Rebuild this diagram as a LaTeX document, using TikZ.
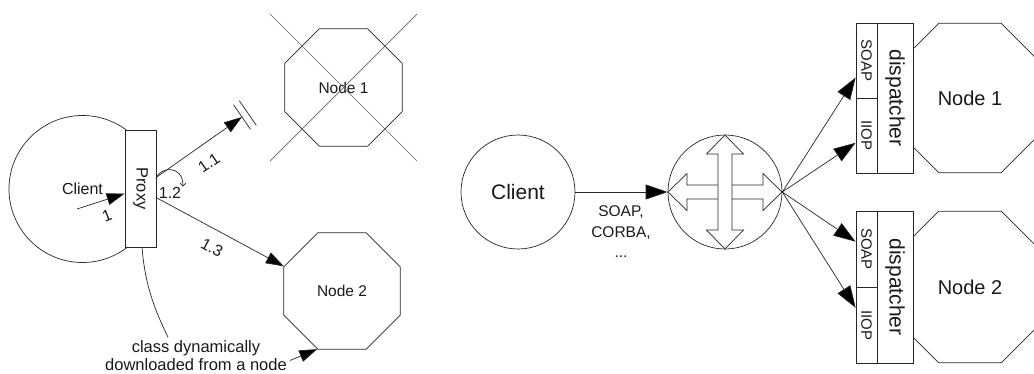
\documentclass[tikz,border=0pt]{standalone}
\usepackage{fontspec}
\setmainfont{Liberation Sans}
\usetikzlibrary{shapes.geometric,arrows.meta,calc}
\begin{document}
\begin{tikzpicture}[x=1pt,y=-1pt,
  ln/.style={draw=black!85, line width=0.7pt},
  oct/.style={ln, regular polygon, regular polygon sides=8, inner sep=0pt},
  arr/.style={ln, -{Triangle[length=18pt,width=12pt,fill=black]}},
  bigarr/.style={ln, -{Triangle[length=22pt,width=15pt,fill=black]}},
  fs/.style={font=\fontsize{#1}{#1}\selectfont, text=black!90},
  cell/.style={ln, fill=white, rotate=-90, inner sep=0pt},
]
\useasboundingbox (0,0) rectangle (1034,373);
\clip (0,0) rectangle (1034,373);

% ---------------- left diagram ----------------
\node[ln, circle, minimum size=147pt, inner sep=0pt, fs=16] (client1) at (82.5,189) {Client};
\node[cell, minimum width=117pt, minimum height=31pt, fs=16.4] (proxy) at (140.5,188.5) {Proxy};
\coordinate (c1s) at (77,209);
\draw[arr] (c1s) -- (proxy);
\node[fs=16, rotate=21.6] (l1) at (107,216) {1};

\node[oct, minimum size=127pt, fs=15.5] (n1l) at (343.5,87.5) {Node 1};
\draw[draw=black!60, line width=0.7pt] ($(n1l.center)+(-73.5,-73.5)$) -- ($(n1l.center)+(73.5,73.5)$);
\draw[draw=black!60, line width=0.7pt] ($(n1l.center)+(73.5,-73.5)$) -- ($(n1l.center)+(-73.5,73.5)$);

\node[oct, minimum size=126pt, fs=15.5] (n2l) at (342,291) {Node 2};

% 1.1 lost message
\coordinate (lost) at (242,117);
\draw[arr] ($(proxy.center)+(15.5,-11)$) -- (lost);
\draw[ln] ($(lost)+(-8.5,-12.3)$) -- ($(lost)+(8.5,12.3)$);
\draw[ln] ($(lost)+(-2.7,-16.3)$) -- ($(lost)+(14.3,8.3)$);
\node[fs=16, rotate=34.6] (l11) at (209,163) {1.1};

% 1.2 self loop
\coordinate (l12a) at ($(proxy.center)+(15.5,-10)$);
\draw[ln, -{Straight Barb[length=3pt,width=6pt]}] (l12a) .. controls ($(l12a)+(4,-12)$) and ($(l12a)+(27,-14)$) .. ($(l12a)+(27,8)$);
\node[fs=16] (l12) at (170,193) {1.2};

% 1.3
\draw[arr] ($(proxy.center)+(15.5,9)$) -- (n2l.157.5);
\node[fs=16, rotate=-28] (l13) at (212,248) {1.3};

% note
\node[font=\fontsize{16.5}{18}\selectfont, text=black!90, align=center, inner sep=1pt] (note) at (196,355.5) {class dynamically\\downloaded from a node};
\draw[ln] ($(proxy.center)+(1.5,58.5)$) .. controls +(3,40) and +(-12,-25) .. ($(note.north)+(-28,-2)$);
\draw[arr] ($(note.east)+(2,5)$) -- (n2l.247.5);

% ---------------- right diagram ----------------
\node[ln, circle, minimum size=114pt, inner sep=0pt, fs=21] (client2) at (518,192) {Client};
\node[ln, circle, minimum size=114pt, inner sep=0pt] (router) at (725,192) {};
\draw[ln, fill=white] (router.center) ++(-57,0) -- ++(19,-18.5) -- ++(0,11.5) -- ++(76,0) -- ++(0,-11.5) -- ++(19,18.5) -- ++(-19,18.5) -- ++(0,-11.5) -- ++(-76,0) -- ++(0,11.5) -- cycle;
\draw[ln, fill=white] (router.center) ++(0,-57) -- ++(-18.5,19) -- ++(11.5,0) -- ++(0,76) -- ++(-11.5,0) -- ++(18.5,19) -- ++(18.5,-19) -- ++(-11.5,0) -- ++(0,-76) -- ++(11.5,0) -- cycle;
\draw[bigarr] (client2) -- (router);
\node[font=\fontsize{15.5}{20.5}\selectfont, text=black!90, align=center] (proto) at (621,232) {SOAP,\\CORBA,\\...};

\node[oct, minimum size=162pt, fs=20] (n1r) at (970,98) {Node 1};
\node[oct, minimum size=164pt, fs=20] (n2r) at (970,287) {Node 2};

\node[cell, minimum width=75pt, minimum height=21pt, fs=15] (soap1) at (866.5,60.5) {SOAP};
\node[cell, minimum width=75pt, minimum height=21pt, fs=15] (iiop1) at (866.5,135.5) {IIOP};
\node[cell, minimum width=150pt, minimum height=36pt, fs=21] (disp1) at (895,98) {dispatcher};

\node[cell, minimum width=76pt, minimum height=21pt, fs=15] (soap2) at (866.5,249) {SOAP};
\node[cell, minimum width=76pt, minimum height=21pt, fs=15] (iiop2) at (866.5,325) {IIOP};
\node[cell, minimum width=152pt, minimum height=36pt, fs=21] (disp2) at (895,287) {dispatcher};

\draw[bigarr] (router.east) -- (soap1);
\draw[bigarr] (router.east) -- (iiop1);
\draw[bigarr] (router.east) -- (soap2);
\draw[bigarr] (router.east) -- (iiop2);
\end{tikzpicture}
\end{document}
